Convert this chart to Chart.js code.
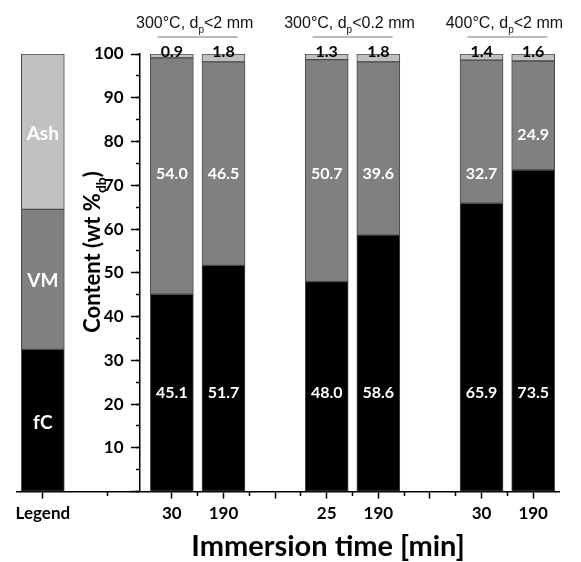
<!DOCTYPE html>
<html>
<head>
<meta charset="utf-8">
<script src="https://cdn.jsdelivr.net/npm/chart.js@4.4.1/dist/chart.umd.min.js"></script>
<style>
  html, body { margin: 0; padding: 0; background: #fff; }
</style>
</head>
<body>
<canvas id="myChart" width="581" height="562"></canvas>
<script>
// ---- data ----
const categories = ['Legend', '30', '190', '25', '190', '30', '190'];
const groupTitles = [
  ['300°C, d', 'p', '<2 mm'],
  ['300°C, d', 'p', '<0.2 mm'],
  ['400°C, d', 'p', '<2 mm']
];
const fC  = [45.1, 51.7, 48.0, 58.6, 65.9, 73.5];
const VM  = [54.0, 46.5, 50.7, 39.6, 32.7, 24.9];
const Ash = [0.9, 1.8, 1.3, 1.8, 1.4, 1.6];
const legendNames = ['fC', 'VM', 'Ash'];
const legendShares = [32.5, 32, 35.5];

// slot positions on the x axis (half-slot units): legend, then 3 groups of 2 bars
const xPos = [0];
for (let g = 0; g < groupTitles.length; g++) xPos.push(5 + 6 * g, 7 + 6 * g);
const majorTicks = [0];
for (let v = 5; v <= 19; v += 2) majorTicks.push(v);
const minorTicks = [2.5];
for (let v = 6; v <= 18; v += 2) minorTicks.push(v);
const yAxisAt = 3.77;

const boldFont = 'Lato';
const colors = ['#000000', '#808080', '#c0c0c0'];

function series(legendVal, values) {
  return [{ x: xPos[0], y: legendVal }].concat(values.map((v, i) => ({ x: xPos[i + 1], y: v })));
}

function labelFor(v) {
  const i = xPos.indexOf(v);
  return i >= 0 ? categories[i] : '';
}

// text with a subscript part
function drawSubText(ctx, parts, cx, cy, size, family, weight) {
  const big = `${weight} ${size}px "${family}"`;
  const small = `${weight} ${Math.round(size * 0.62)}px "${family}"`;
  ctx.font = big;
  const w1 = ctx.measureText(parts[0]).width;
  const w3 = ctx.measureText(parts[2]).width;
  ctx.font = small;
  const w2 = ctx.measureText(parts[1]).width;
  let x = cx - (w1 + w2 + w3) / 2;
  ctx.textAlign = 'left';
  ctx.textBaseline = 'middle';
  ctx.font = big;
  ctx.fillText(parts[0], x, cy);
  x += w1;
  ctx.font = small;
  ctx.fillText(parts[1], x, cy + size * 0.38);
  x += w2;
  ctx.font = big;
  ctx.fillText(parts[2], x, cy);
}

const annotations = {
  id: 'annotations',
  afterDatasetsDraw(chart) {
    const ctx = chart.ctx;
    const xs = chart.scales.x, ys = chart.scales.y;
    ctx.save();
    ctx.textAlign = 'center';
    ctx.textBaseline = 'middle';

    // legend bar names
    ctx.fillStyle = '#fff';
    ctx.font = `bold 19px "${boldFont}"`;
    let base = 0;
    legendShares.forEach((s, k) => {
      ctx.fillText(legendNames[k], xs.getPixelForValue(xPos[0]), ys.getPixelForValue(base + s / 2) + 2);
      base += s;
    });

    // values in the bars
    ctx.font = `bold 16px "${boldFont}"`;
    for (let i = 0; i < fC.length; i++) {
      const px = xs.getPixelForValue(xPos[i + 1]);
      ctx.fillStyle = '#fff';
      ctx.fillText(fC[i].toFixed(1), px, ys.getPixelForValue(22.5));
      const vmAt = fC[i] > 70 ? fC[i] + 8 : 72.5;
      ctx.fillText(VM[i].toFixed(1), px, ys.getPixelForValue(vmAt));
      ctx.fillStyle = '#000';
      ctx.fillText(Ash[i].toFixed(1), px, ys.getPixelForValue(100) - 2);
    }

    // group titles with underline
    ctx.fillStyle = '#111';
    groupTitles.forEach((t, g) => {
      const cx = (xs.getPixelForValue(xPos[1 + 2 * g]) + xs.getPixelForValue(xPos[2 + 2 * g])) / 2;
      drawSubText(ctx, t, cx - 3, 24, 16, 'Liberation Sans', 'normal');
      ctx.strokeStyle = '#777';
      ctx.lineWidth = 1.2;
      ctx.beginPath();
      ctx.moveTo(cx - 40, 37);
      ctx.lineTo(cx + 40, 37);
      ctx.stroke();
    });

    // axis titles
    ctx.fillStyle = '#000';
    ctx.save();
    ctx.translate(93, 252);
    ctx.rotate(-Math.PI / 2);
    drawSubText(ctx, ['Content (wt %', 'db', ')'], 0, 0, 22, boldFont, 'bold');
    ctx.restore();

    ctx.textAlign = 'center';
    ctx.textBaseline = 'middle';
    ctx.font = `bold 29px "${boldFont}"`;
    ctx.fillText('Immersion time [min]', 328, 547);
    ctx.restore();
  }
};

const ctx = document.getElementById('myChart').getContext('2d');
const barStyle = { borderColor: '#4a4a4a', borderWidth: 1, borderSkipped: false, barThickness: 43 };

new Chart(ctx, {
  type: 'bar',
  data: {
    datasets: [
      Object.assign({ label: 'fC', data: series(legendShares[0], fC), backgroundColor: colors[0] }, barStyle),
      Object.assign({ label: 'VM', data: series(legendShares[1], VM), backgroundColor: colors[1] }, barStyle),
      Object.assign({ label: 'Ash', data: series(legendShares[2], Ash), backgroundColor: colors[2] }, barStyle)
    ]
  },
  options: {
    responsive: false,
    animation: false,
    layout: { padding: { left: 17, right: 22, top: 54, bottom: 33 } },
    plugins: { legend: { display: false }, tooltip: { enabled: false } },
    scales: {
      x: {
        type: 'linear',
        stacked: true,
        offset: false,
        min: -1,
        max: 20,
        afterBuildTicks: (scale) => { scale.ticks = majorTicks.map(v => ({ value: v })); },
        ticks: {
          autoSkip: false,
          maxRotation: 0,
          padding: 5,
          color: '#000',
          font: { family: boldFont, weight: 'bold', size: 17 },
          callback: (v) => labelFor(v)
        },
        grid: { offset: false, drawOnChartArea: false, tickLength: 7, tickWidth: 1.5, tickColor: '#000' },
        border: { color: '#000', width: 1.5 }
      },
      xMinor: {
        type: 'linear',
        position: { y: 0 },
        min: -1,
        max: 20,
        offset: false,
        afterBuildTicks: (scale) => { scale.ticks = minorTicks.map(v => ({ value: v })); },
        ticks: { display: false },
        grid: { offset: false, drawOnChartArea: false, tickLength: 4, tickWidth: 1.5, tickColor: '#000' },
        border: { display: false }
      },
      y: {
        stacked: true,
        position: { x: yAxisAt },
        min: 0,
        max: 100,
        ticks: {
          stepSize: 10,
          color: '#000',
          font: { family: boldFont, weight: 'bold', size: 17 },
          callback: (v) => (v === 0 ? '' : v + '    ')
        },
        grid: { drawOnChartArea: false, tickLength: 8, tickWidth: 1.5, tickColor: '#000' },
        border: { color: '#000', width: 1.5 }
      },
      yMinor: {
        position: { x: yAxisAt },
        min: 0,
        max: 100,
        ticks: { display: false, stepSize: 5 },
        grid: { drawOnChartArea: false, tickLength: 4, tickWidth: 1.5, tickColor: '#000' },
        border: { display: false }
      }
    }
  },
  plugins: [annotations]
});
</script>
</body>
</html>
